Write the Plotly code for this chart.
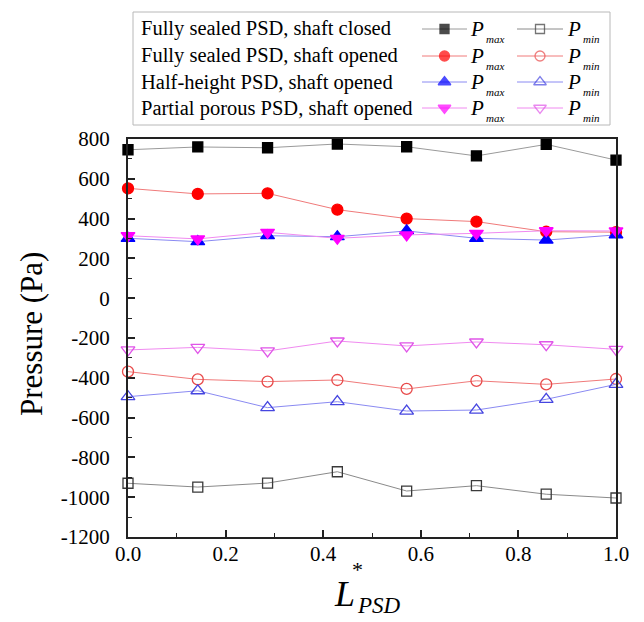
import plotly.graph_objects as go

# Non-dimensional PSD length positions
l_psd = [0.0, 0.143, 0.286, 0.429, 0.571, 0.714, 0.857, 1.0]

# Peak pressures (Pa) for each configuration
closed_pmax = [746, 760, 756, 775, 761, 715, 773, 694]
closed_pmin = [-930, -949, -929, -872, -969, -942, -985, -1004]
sealed_pmax = [552, 524, 527, 445, 400, 385, 334, 332]
sealed_pmin = [-369, -408, -419, -411, -456, -415, -433, -406]
half_pmax = [301, 284, 314, 309, 338, 301, 292, 318]
half_pmin = [-495, -465, -550, -520, -567, -562, -508, -433]
porous_pmax = [314, 298, 331, 301, 318, 326, 339, 338]
porous_pmin = [-260, -247, -265, -215, -240, -220, -234, -257]

case_labels = [
    "Fully sealed PSD, shaft closed",
    "Fully sealed PSD, shaft opened",
    "Half-height PSD, shaft opened",
    "Partial porous PSD, shaft opened",
]

y_ticks = [800, 600, 400, 200, 0, -200, -400, -600, -800, -1000, -1200]
x_ticks = [0.0, 0.2, 0.4, 0.6, 0.8, 1.0]

# Page size in px; the figure fills the page and positions are given in px
W, H = 644, 622
FONT = "Liberation Serif"


def px(x):
    return x / W


def py(y):
    return 1 - y / H


# (values, symbol, marker colour, line colour, marker size)
series = [
    (closed_pmax, "square", "#000000", "#9a9a9a", 10),
    (closed_pmin, "square-open", "#3a3a3a", "#8a8a8a", 10),
    (sealed_pmax, "circle", "#ff0000", "#f07a7a", 11),
    (sealed_pmin, "circle-open", "#e84a4a", "#f07a7a", 11),
    (half_pmax, "triangle-up", "#0000ff", "#8a8af2", 12),
    (half_pmin, "triangle-up-open", "#4646e0", "#8a8af2", 12),
    (porous_pmax, "triangle-down", "#ff00ff", "#f08af0", 12),
    (porous_pmin, "triangle-down-open", "#e055e8", "#f08af0", 12),
]

fig = go.Figure()

for vals, sym, mcol, lcol, size in series:
    fig.add_trace(go.Scatter(
        x=l_psd, y=vals, mode="lines+markers",
        line=dict(color=lcol, width=1),
        marker=dict(symbol=sym, size=size, color=mcol,
                    line=dict(color=mcol, width=1.3)),
        cliponaxis=False, showlegend=False, hoverinfo="x+y",
        xaxis="x", yaxis="y",
    ))

# Key: one row per case, a P_max sample and a P_min sample
row_y = [29, 56, 82, 108]
max_x = (422, 467)
min_x = (517, 563)
for i, (label, row) in enumerate(zip(case_labels, row_y)):
    for j, (x0, x1) in enumerate((max_x, min_x)):
        _, sym, mcol, lcol, size = series[2 * i + j]
        fig.add_trace(go.Scatter(
            x=[x0, (x0 + x1) / 2, x1], y=[row, row, row],
            mode="lines+markers",
            line=dict(color=lcol, width=1),
            marker=dict(symbol=sym, size=[0, size - 1, 0], color=mcol,
                        line=dict(color=mcol, width=1.3)),
            cliponaxis=False, showlegend=False, hoverinfo="skip",
            xaxis="x2", yaxis="y2",
        ))

annotations = []
for label, row in zip(case_labels, row_y):
    annotations.append(dict(
        text=label, x=px(139), y=py(row), xref="paper", yref="paper",
        xanchor="left", yanchor="middle", showarrow=False,
        font=dict(family=FONT, size=20.5, color="black"),
    ))
    for p_left, sub in ((468, "max"), (565, "min")):
        annotations.append(dict(
            text="<i>P</i>", x=px(p_left), y=py(row), xref="paper", yref="paper",
            xanchor="left", yanchor="middle", showarrow=False,
            font=dict(family=FONT, size=21, color="black"),
        ))
        annotations.append(dict(
            text=f"<i>{sub}</i>", x=px(p_left + 16), y=py(row + 10),
            xref="paper", yref="paper",
            xanchor="left", yanchor="middle", showarrow=False,
            font=dict(family=FONT, size=11, color="black"),
        ))

# Axis titles
annotations.append(dict(
    text="Pressure (Pa)", x=px(31), y=py(334), xref="paper", yref="paper",
    xanchor="center", yanchor="middle", textangle=-90, showarrow=False,
    font=dict(family=FONT, size=31, color="black"),
))
annotations.append(dict(
    text="<i>L</i>", x=px(344), y=py(594), xref="paper", yref="paper",
    xanchor="center", yanchor="middle", showarrow=False,
    font=dict(family=FONT, size=36, color="black"),
))
annotations.append(dict(
    text="*", x=px(357), y=py(569), xref="paper", yref="paper",
    xanchor="center", yanchor="middle", showarrow=False,
    font=dict(family=FONT, size=22, color="black"),
))
annotations.append(dict(
    text="<i>PSD</i>", x=px(355), y=py(605), xref="paper", yref="paper",
    xanchor="left", yanchor="middle", showarrow=False,
    font=dict(family=FONT, size=23, color="black"),
))

axis_common = dict(
    showgrid=False, zeroline=False, showline=True, mirror=True,
    linecolor="#222222", linewidth=2, ticks="inside", tickcolor="#222222",
    tickwidth=1.5, ticklen=7, automargin=False,
    tickfont=dict(family=FONT, size=21, color="black"),
)

fig.update_layout(
    margin=dict(l=0, r=0, t=0, b=0, autoexpand=False),
    font=dict(family=FONT, size=20, color="black"),
    paper_bgcolor="white", plot_bgcolor="rgba(0,0,0,0)",
    xaxis=dict(
        domain=[px(128), px(616)], range=[0, 1],
        tickvals=x_ticks, ticktext=[f"{v:.1f}" for v in x_ticks],
        minor=dict(dtick=0.1, ticks="inside", ticklen=4, tickwidth=1.2,
                   tickcolor="#222222"),
        ticklabelstandoff=-3,
        anchor="y", **axis_common,
    ),
    yaxis=dict(
        domain=[py(537), py(139)], range=[-1200, 800],
        tickvals=y_ticks, ticktext=[str(v) for v in y_ticks],
        minor=dict(dtick=100, ticks="inside", ticklen=4, tickwidth=1.2,
                   tickcolor="#222222"),
        ticklabelstandoff=12,
        anchor="x", **axis_common,
    ),
    xaxis2=dict(domain=[0, 1], range=[0, W], visible=False, anchor="y2",
                fixedrange=True),
    yaxis2=dict(domain=[0, 1], range=[H, 0], visible=False, anchor="x2",
                fixedrange=True),
    shapes=[dict(
        type="rect", xref="paper", yref="paper",
        x0=px(133), x1=px(610), y0=py(125), y1=py(12),
        line=dict(color="#b8b8b8", width=1), fillcolor="white", layer="below",
    )],
    annotations=annotations,
)

fig.write_html("out.html", default_width="100vw", default_height="100vh",
               post_script="document.body.style.margin='0';")
